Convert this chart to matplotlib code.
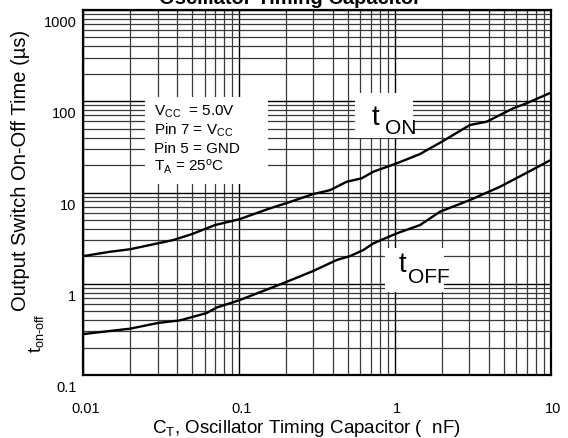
import matplotlib
matplotlib.use('Agg')
import matplotlib.pyplot as plt
from matplotlib.patches import Rectangle

plt.rcParams['font.family'] = ['Liberation Sans', 'DejaVu Sans']
plt.rcParams['mathtext.fontset'] = 'custom'
plt.rcParams['mathtext.rm'] = 'Liberation Sans'
plt.rcParams['mathtext.it'] = 'Liberation Sans'

# ---- data ----
ct_on = [0.01, 0.0148, 0.02, 0.03, 0.0377, 0.05, 0.07, 0.1, 0.158, 0.2, 0.3,
         0.383, 0.49, 0.612, 0.727, 1.03, 1.45, 1.68, 1.95, 3.03, 3.88, 5.75, 7.0, 10]
t_on = [2.01, 2.24, 2.39, 2.77, 3.01, 3.51, 4.40, 5.08, 6.71, 7.62, 9.63,
        10.6, 13.1, 14.3, 16.9, 20.9, 26.4, 30.5, 35.1, 54.9, 59.7, 83.7, 95.0, 124]

ct_off = [0.01, 0.02, 0.0302, 0.0418, 0.062, 0.0718, 0.1, 0.143, 0.202, 0.299,
          0.423, 0.515, 0.627, 0.727, 1.03, 1.45, 1.95, 3.03, 4.7, 6.8, 10]
t_off = [0.281, 0.322, 0.372, 0.397, 0.478, 0.549, 0.659, 0.834, 1.05, 1.38,
         1.82, 2.01, 2.34, 2.77, 3.57, 4.40, 6.17, 8.27, 11.5, 16.0, 22.7]

x_ticks = [0.01, 0.1, 1, 10]
x_tick_labels = ['0.01', '0.1', '1', '10']
y_ticks = [0.1, 1, 10, 100, 1000]
y_tick_labels = ['0.1', '1', '10', '100', '1000']

title = 'Oscillator Timing Capacitor'
ylabel = 'Output Switch On-Off Time (\u00b5s)'
ylabel_sym = r'$\mathregular{t}_{\text{on-off}}$'
xlabel = r'$\mathregular{C_T}$, Oscillator Timing Capacitor (  nF)'
conditions = [r'$\mathregular{V_{CC}}$  = 5.0V',
              r'Pin 7 = $\mathregular{V_{CC}}$',
              'Pin 5 = GND',
              r'$\mathregular{T_A}$ = 25$\mathregular{^o}$C']

# ---- layout ----
W, H = 568, 438
fig = plt.figure(figsize=(W / 100, H / 100), dpi=100)


def fx(px):
    return px / W


def fy(py):
    return 1 - py / H


ax = fig.add_axes([fx(83.3), fy(375), 467.4 / W, 365 / H])
ax.set_xscale('log')
ax.set_yscale('log')
ax.set_xlim(0.01, 10)
ax.set_ylim(0.1, 1000)
ax.set_axisbelow(True)
ax.grid(True, which='major', color='black', lw=1.0)
ax.grid(True, which='minor', color='#3a3a3a', lw=0.9)
ax.tick_params(which='both', length=0, labelbottom=False, labelleft=False)
for s in ax.spines.values():
    s.set_linewidth(1.6)
    s.set_color('black')

ax.plot(ct_on, t_on, color='black', lw=1.7, zorder=3)
ax.plot(ct_off, t_off, color='black', lw=1.7, zorder=3)

for v, lab in zip(y_ticks, y_tick_labels):
    ax.annotate(lab, xy=(0, v), xycoords=('axes fraction', 'data'),
                xytext=(-7, -13), textcoords='offset pixels',
                ha='right', va='center', fontsize=10.5, annotation_clip=False)
for v, lab in zip(x_ticks, x_tick_labels):
    ax.annotate(lab, xy=(v, 0), xycoords=('data', 'axes fraction'),
                xytext=(2, -34), textcoords='offset pixels',
                ha='center', va='center', fontsize=10.5, annotation_clip=False)

# white boxes behind annotations
for (x0, y0, x1, y1) in [(145, 97, 268, 184), (355, 93, 413, 138), (385, 248, 444, 292)]:
    fig.add_artist(Rectangle((fx(x0), fy(y1)), (x1 - x0) / W, (y1 - y0) / H,
                             transform=fig.transFigure, facecolor='white',
                             edgecolor='none', zorder=2))

for i, line in enumerate(conditions):
    fig.text(fx(154), fy(116 + 18.3 * i), line, fontsize=11, ha='left',
             va='baseline', zorder=3)

fig.text(fx(372), fy(125), 't', fontsize=20, ha='left', va='baseline', zorder=3)
fig.text(fx(385), fy(134), 'ON', fontsize=15, ha='left', va='baseline', zorder=3)
fig.text(fx(399), fy(272), 't', fontsize=20, ha='left', va='baseline', zorder=3)
fig.text(fx(408), fy(283), 'OFF', fontsize=15, ha='left', va='baseline', zorder=3)

fig.text(fx(290), fy(4), title, fontsize=14.5, fontweight='bold', ha='center',
         va='baseline')
fig.text(fx(306), fy(433), xlabel, fontsize=13.5, ha='center', va='baseline')
fig.text(fx(21), fy(170), ylabel, fontsize=14.5, rotation=90, ha='center',
         va='center')
fig.text(fx(36), fy(333), ylabel_sym, fontsize=13, rotation=90, ha='center',
         va='center')

fig.savefig('out.png', dpi=100)
